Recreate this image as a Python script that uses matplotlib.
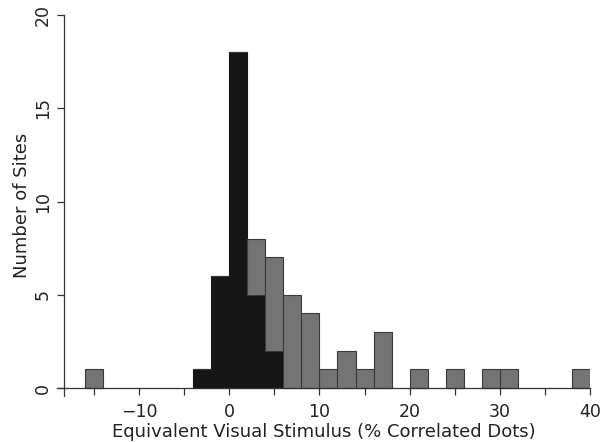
import matplotlib
matplotlib.use("Agg")
import matplotlib.pyplot as plt
import numpy as np

# bin left edges (width 2) and counts
bin_left = [-16, -4, -2, 0, 2, 4, 6, 8, 10, 12, 14, 16, 20, 24, 28, 30, 38]
black_counts = [0, 1, 6, 18, 5, 2, 0, 0, 0, 0, 0, 0, 0, 0, 0, 0, 0]
gray_counts = [1, 0, 0, 0, 3, 5, 5, 4, 1, 2, 1, 3, 1, 1, 1, 1, 1]
bin_width = 2

x_major = [-10, 0, 10, 20, 30, 40]
x_minor = [-15, -5, 5, 15, 25, 35]
y_ticks = [0, 5, 10, 15, 20]

plt.rcParams['font.family'] = ['DejaVu Sans']

fig = plt.figure(figsize=(6.10, 4.42), dpi=100)
# axes box in pixels: x 57..590, y (from top) 15..395.5
ax = fig.add_axes([57 / 610, 46.5 / 442, 533 / 610, 380.5 / 442])

black = np.array(black_counts)
gray = np.array(gray_counts)
left = np.array(bin_left)

ax.bar(left, black, width=bin_width, align='edge', color='#161616',
       edgecolor='#161616', linewidth=0.8)
ax.bar(left, gray, width=bin_width, align='edge', bottom=black,
       color='#747474', edgecolor='#3a3a3a', linewidth=0.8)

ax.set_xlim(-19.1, 40)
ax.set_ylim(-0.4, 20)

for s in ['top', 'right']:
    ax.spines[s].set_visible(False)
ax.spines['left'].set_position(('data', -18.3))
ax.spines['left'].set_bounds(-0.4, 20)
ax.spines['bottom'].set_position(('data', 0))
ax.spines['bottom'].set_bounds(-19.1, 40)
for s in ['left', 'bottom']:
    ax.spines[s].set_color('#333333')
    ax.spines[s].set_linewidth(0.9)

ax.set_xticks(x_major)
ax.set_xticklabels(['\u221210', '0', '10', '20', '30', '40'])
ax.set_xticks(x_minor, minor=True)
ax.set_yticks(y_ticks)
ax.set_yticklabels([str(v) for v in y_ticks], rotation=90, va='center')

ax.tick_params(axis='both', which='both', direction='out', length=5,
               width=0.9, color='#333333', labelsize=12.5, labelcolor='#222222')
ax.tick_params(axis='x', which='both', pad=6)
ax.tick_params(axis='y', pad=4)

ax.set_xlabel('Equivalent Visual Stimulus (% Correlated Dots)', fontsize=13,
              color='#222222', labelpad=1)
ax.set_ylabel('Number of Sites', fontsize=13, color='#222222', labelpad=2)

fig.savefig('out.png', dpi=100)
